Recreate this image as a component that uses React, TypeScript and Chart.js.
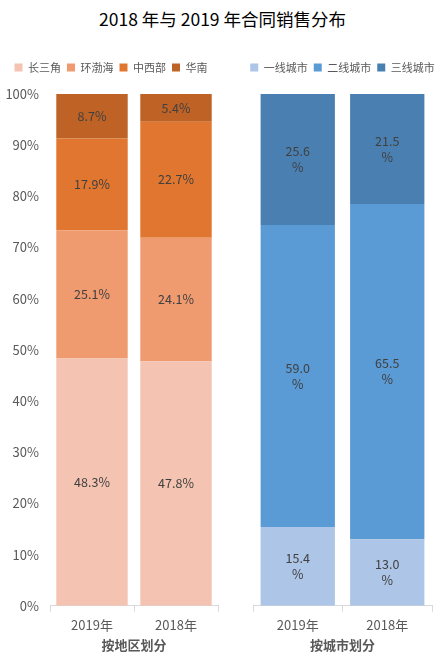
import React, { useEffect, useRef } from "react";
import { Chart, registerables } from "chart.js";

Chart.register(...registerables);

const TITLE = "2018 年与 2019 年合同销售分布";
const categories = ["2019年", "2018年"];
const yTicks = [0, 10, 20, 30, 40, 50, 60, 70, 80, 90, 100];

const regionNames = ["长三角", "环渤海", "中西部", "华南"];
const regionColors = ["#F4C3B1", "#F09A70", "#E0762F", "#BE6226"];
const yangtze = [48.3, 47.8];
const bohai = [25.1, 24.1];
const midwest = [17.9, 22.7];
const south = [8.7, 5.4];
const regionValues = [yangtze, bohai, midwest, south];

const cityNames = ["一线城市", "二线城市", "三线城市"];
const cityColors = ["#ADC5E6", "#5A9AD5", "#4A7FB1"];
const tier1 = [15.4, 13.0];
const tier2 = [59.0, 65.5];
const tier3 = [25.6, 21.5];
const cityValues = [tier1, tier2, tier3];

const FONT = "'Microsoft YaHei', 'Noto Sans CJK SC', 'Noto Sans', sans-serif";
const TEXT = "#595959";

const legendGap = {
  id: "legendGap",
  beforeInit(chart: any) {
    const legend = chart.legend;
    if (!legend) return;
    const orig = legend.fit;
    legend.fit = function () {
      orig.call(this);
      this.height += 11;
    };
  },
};

const labelPlugin = (wrap: boolean) => ({
  id: "barLabels",
  afterDatasetsDraw(chart: any) {
    const ctx = chart.ctx;
    ctx.save();
    ctx.font = `12.5px ${FONT}`;
    ctx.fillStyle = "#404040";
    ctx.textAlign = "center";
    ctx.textBaseline = "middle";
    chart.data.datasets.forEach((ds: any, di: number) => {
      const meta = chart.getDatasetMeta(di);
      meta.data.forEach((bar: any, i: number) => {
        const v = ds.data[i] as number;
        const cy = (bar.y + bar.base) / 2;
        const s = v.toFixed(1);
        if (wrap) {
          ctx.fillText(s, bar.x, cy - 8);
          ctx.fillText("%", bar.x, cy + 8);
        } else {
          ctx.fillText(s + "%", bar.x, cy);
        }
      });
    });
    ctx.restore();
  },
});

function makeConfig(
  names: string[],
  colors: string[],
  values: number[][],
  axisTitle: string,
  showY: boolean,
  pct: number,
  padL: number,
  padR: number,
  wrap: boolean
): any {
  return {
    type: "bar",
    data: {
      labels: categories,
      datasets: names.map((n, i) => ({
        label: n,
        data: values[i],
        backgroundColor: colors[i],
        borderWidth: 0,
        barPercentage: 1,
        categoryPercentage: pct,
      })),
    },
    options: {
      animation: false,
      responsive: false,
      maintainAspectRatio: false,
      layout: { padding: { top: 0, left: 0, right: 0, bottom: 14 } },
      plugins: {
        legend: {
          position: "top",
          labels: {
            usePointStyle: true,
            pointStyle: "rect",
            boxWidth: 8,
            boxHeight: 8,
            padding: 6,
            color: TEXT,
            font: { family: FONT, size: 11 },
          },
        },
        tooltip: { enabled: false },
      },
      scales: {
        x: {
          stacked: true,
          grid: {
            display: true,
            drawOnChartArea: false,
            drawTicks: true,
            tickLength: 6,
            offset: true,
            color: "#D9D9D9",
          },
          border: { display: true, color: "#D9D9D9" },
          ticks: { color: TEXT, font: { family: FONT, size: 13 }, padding: 5 },
          title: {
            display: true,
            text: axisTitle,
            color: TEXT,
            font: { family: FONT, size: 13, weight: "bold" },
            padding: { top: 0, bottom: 0 },
          },
        },
        y: {
          stacked: true,
          display: true,
          min: 0,
          max: 100,
          afterBuildTicks: (s: any) => {
            s.ticks = yTicks.map((v) => ({ value: v }));
          },
          afterFit: (s: any) => {
            s.width = padL;
          },
          grid: { display: false },
          border: { display: false },
          ticks: {
            display: showY,
            color: TEXT,
            font: { family: FONT, size: 13 },
            padding: 3,
            callback: (v: any) => v + "%",
          },
        },
        yRight: {
          type: "linear",
          position: "right",
          display: true,
          min: 0,
          max: 100,
          afterFit: (s: any) => {
            s.width = padR;
          },
          grid: { display: false },
          border: { display: false },
          ticks: { display: false },
        },
      },
    },
    plugins: [legendGap, labelPlugin(wrap)],
  };
}

function ChartBox(props: { config: any; left: number; top: number; width: number; height: number }) {
  const ref = useRef<HTMLCanvasElement>(null);
  useEffect(() => {
    const c = new Chart(ref.current!, props.config);
    return () => c.destroy();
  }, []);
  return (
    <canvas
      ref={ref}
      width={props.width}
      height={props.height}
      style={{ position: "absolute", left: props.left, top: props.top, width: props.width, height: props.height }}
    />
  );
}

export default function App() {
  const leftCfg = makeConfig(regionNames, regionColors, regionValues, "按地区划分", true, 0.85, 50, 4, false);
  const rightCfg = makeConfig(cityNames, cityColors, cityValues, "按城市划分", false, 0.83, 13, 13, true);
  return (
    <div style={{ position: "fixed", left: 0, top: 0, width: 445, height: 667, background: "#fff" }}>
      <div
        style={{
          position: "absolute",
          top: 6,
          left: 0,
          width: 445,
          textAlign: "center",
          fontFamily: FONT,
          fontSize: 17.5,
          color: "#000",
        }}
      >
        {TITLE}
      </div>
      <ChartBox config={leftCfg} left={0} top={56} width={222} height={611} />
      <ChartBox config={rightCfg} left={240} top={56} width={205} height={611} />
    </div>
  );
}
